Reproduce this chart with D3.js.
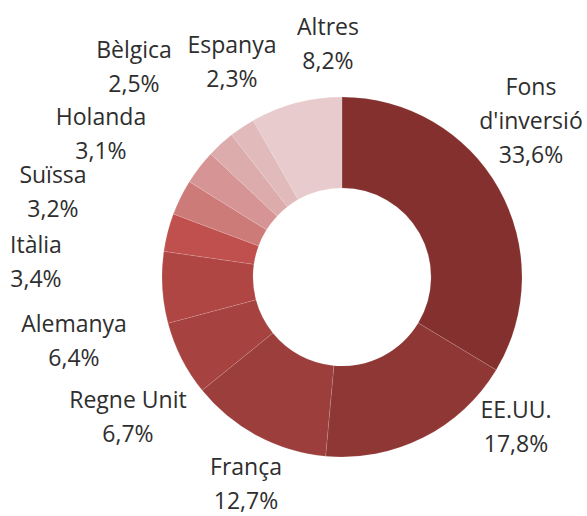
<!DOCTYPE html>
<html>
<head>
<meta charset="utf-8">
<script src="https://cdn.jsdelivr.net/npm/d3@7"></script>
<style>
  body { margin: 0; background: #fff; }
  text { font-family: "Open Sans", "Noto Sans", sans-serif; fill: #2e2e2e; }
</style>
</head>
<body>
<div id="donut"></div>
<script>
// chart size (same as window)
const width = 587;
const height = 516;

// data, clockwise from 12 o'clock
const categories = ["Fons\nd'inversió", "EE.UU.", "França", "Regne Unit", "Alemanya",
                    "Itàlia", "Suïssa", "Holanda", "Bèlgica", "Espanya", "Altres"];
const values = [33.6, 17.8, 12.7, 6.7, 6.4, 3.4, 3.2, 3.1, 2.5, 2.3, 8.2];
const valueLabels = ["33,6%", "17,8%", "12,7%", "6,7%", "6,4%", "3,4%", "3,2%", "3,1%", "2,5%", "2,3%", "8,2%"];
const colors = ["#84302f", "#8f3735", "#9b3e3c", "#a6423f", "#b04644", "#c0504d",
                "#cd7b79", "#d69594", "#dcabab", "#e1bbbb", "#e8cbcc"];

// where each label sits (center x, first baseline y)
const labelPos = [
  [531, 95], [516, 418], [246, 475], [128, 408], [74, 332],
  [36, 253], [53, 183], [101, 125], [134, 58], [232, 53], [328, 35]
];
const lineGap = 34;

const cx = 342, cy = 277;
const outerR = 180, innerR = 89;

const svg = d3.select("#donut")
  .append("svg")
  .attr("width", width)
  .attr("height", height);

const data = categories.map((c, i) => ({name: c, value: values[i], label: valueLabels[i], color: colors[i]}));

// pie layout without sorting so order stays as in the picture
const pie = d3.pie()
  .sort(null)
  .value(d => d.value);

const arc = d3.arc()
  .innerRadius(innerR)
  .outerRadius(outerR);

const g = svg.append("g")
  .attr("transform", `translate(${cx},${cy})`);

g.selectAll(".slice")
  .data(pie(data))
  .enter()
  .append("path")
    .attr("class", "slice")
    .attr("d", arc)
    .attr("fill", d => d.data.color)
    .attr("stroke", "#fff")
    .attr("stroke-opacity", 0.2)
    .attr("stroke-width", 0.6);

// labels: name lines then the percentage
const labels = svg.selectAll(".lbl")
  .data(data)
  .enter()
  .append("text")
    .attr("class", "lbl")
    .attr("text-anchor", "middle")
    .attr("font-size", "23px");

labels.each(function(d, i) {
  const t = d3.select(this);
  const lines = d.name.split("\n").concat([d.label]);
  lines.forEach((line, j) => {
    t.append("tspan")
      .attr("x", labelPos[i][0])
      .attr("y", labelPos[i][1] + j * lineGap)
      .text(line);
  });
});
</script>
</body>
</html>
